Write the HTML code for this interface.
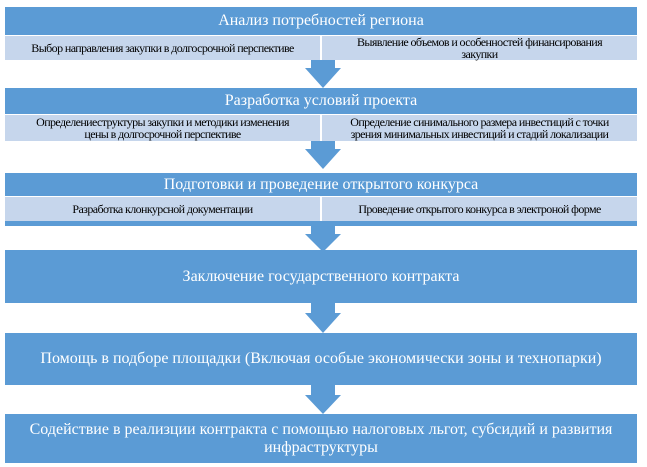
<!DOCTYPE html>
<html><head><meta charset="utf-8"><style>
body{margin:0;width:647px;height:467px;background:#fff;position:relative;overflow:hidden;font-family:"Liberation Serif",serif}
.h{position:absolute;left:5px;width:632px;background:#5b9bd5;color:#fff;text-align:center;font-size:16px;display:flex;align-items:center;justify-content:center}
.s{position:absolute;width:315px;background:#c6d6ec;color:#000;font-size:12px;text-align:center;display:flex;align-items:center;justify-content:center;line-height:12px;letter-spacing:-0.6px;white-space:nowrap}
.a{position:absolute;left:305px;width:36px}
</style></head><body>
<div class="h" style="top:7px;height:28px">Анализ потребностей региона</div>
<div class="s" style="left:5px;top:36px;height:24px">Выбор направления закупки в долгосрочной перспективе</div>
<div class="s" style="left:322px;top:36px;height:24px">Выявление объемов и особенностей финансирования<br>закупки</div>
<svg class="a" style="top:60px" width="36" height="28"><polygon points="6,0 30,0 30,8 36,8 18,28 0,8 6,8" fill="#5b9bd5"/></svg>

<div class="h" style="top:88px;height:26px">Разработка условий проекта</div>
<div class="s" style="left:5px;top:115px;height:26px">Определениеструктуры закупки и методики изменения<br>цены в долгосрочной перспективе</div>
<div class="s" style="left:322px;top:115px;height:26px">Определение синимального размера инвестиций с точки<br>зрения минимальных инвестиций и стадий локализации</div>
<svg class="a" style="top:141px" width="36" height="28"><polygon points="6,0 30,0 30,8 36,8 18,28 0,8 6,8" fill="#5b9bd5"/></svg>

<div class="h" style="top:173px;height:23px">Подготовки и проведение открытого конкурса</div>
<div class="s" style="left:5px;top:197px;height:24px">Разработка клонкурсной документации</div>
<div class="s" style="left:322px;top:197px;height:24px">Проведение открытого конкурса в электроной форме</div>
<div style="position:absolute;left:5px;top:221px;width:632px;height:5px;background:#5b9bd5"></div>
<svg class="a" style="top:226px" width="36" height="26"><polygon points="6,0 30,0 30,8 36,8 18,26 0,8 6,8" fill="#5b9bd5"/></svg>

<div class="h" style="top:250px;height:53px">Заключение государственного контракта</div>
<svg class="a" style="top:303px" width="36" height="30"><polygon points="6,0 30,0 30,10 36,10 18,30 0,10 6,10" fill="#5b9bd5"/></svg>
<div class="h" style="top:333px;height:52px">Помощь в подборе площадки (Включая особые экономически зоны и технопарки)</div>
<svg class="a" style="top:385px" width="36" height="29"><polygon points="6,0 30,0 30,10 36,10 18,29 0,10 6,10" fill="#5b9bd5"/></svg>
<div class="h" style="top:414px;height:49px;line-height:18px">Содействие в реализции контракта с помощью налоговых льгот, субсидий и развития<br>инфраструктуры</div>
</body></html>
